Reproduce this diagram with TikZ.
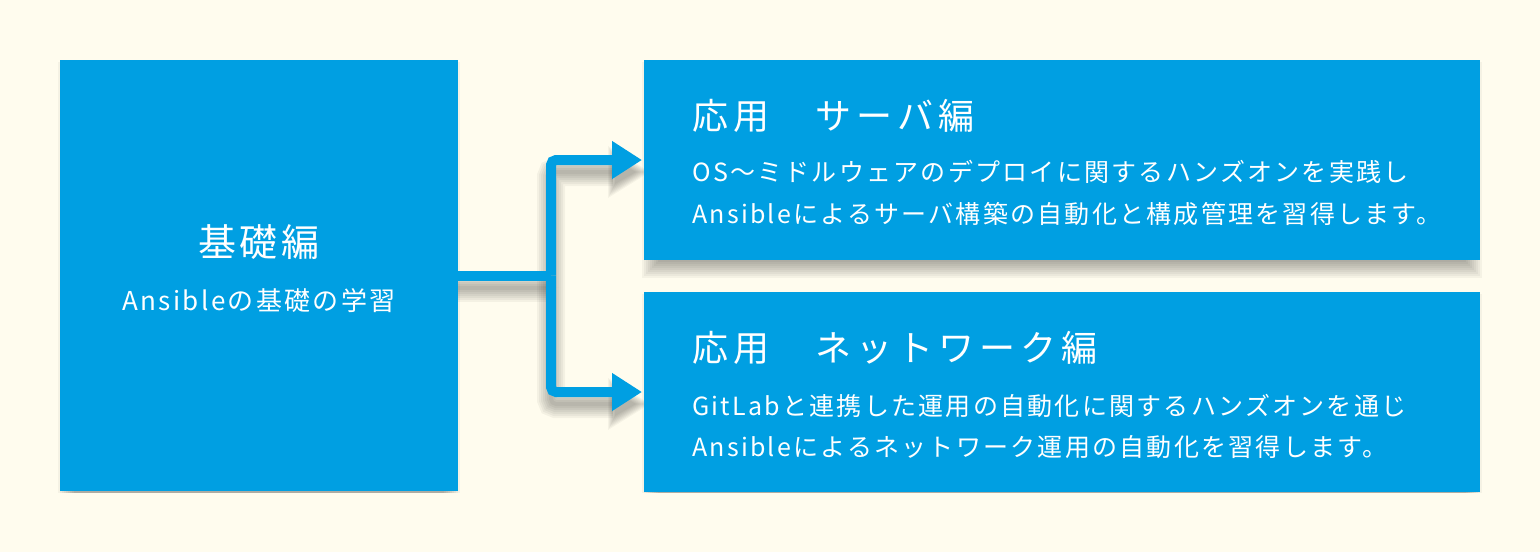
\documentclass[tikz,border=0pt]{standalone}
\usepackage{fontspec}
\newfontfamily\jptitle[LetterSpace=14]{Noto Sans CJK JP}
\newfontfamily\jpbig[LetterSpace=8]{Noto Sans CJK JP}
\newfontfamily\jpbody[LetterSpace=9]{Noto Sans CJK JP}
\usetikzlibrary{arrows.meta,calc}
\definecolor{bg}{HTML}{FFFCEE}
\definecolor{ablue}{HTML}{009FE2}
\pgfdeclarelayer{bgl}
\pgfdeclarelayer{shad}
\pgfsetlayers{bgl,shad,main}
\tikzset{
  panel/.style={fill=ablue, draw=none, inner sep=0pt, outer sep=0pt, anchor=north west},
  ttl/.style={text=white, font=\jptitle\fontsize{36}{40}\selectfont, inner sep=0pt, anchor=base west},
  bigttl/.style={text=white, font=\jpbig\fontsize{38}{42}\selectfont, inner sep=0pt, anchor=base},
  body/.style={text=white, font=\jpbody\fontsize{25}{30}\selectfont, inner sep=0pt, anchor=base west},
  bodyc/.style={text=white, font=\jpbody\fontsize{26}{30}\selectfont, inner sep=0pt, anchor=base},
  conn/.style={draw=ablue, line width=10pt, rounded corners=5pt},
  tip/.style={-{Triangle[length=30pt,width=36pt]}},
  shline/.style={draw=black, opacity=0.045, rounded corners=5pt},
  shbox/.style={fill=black, opacity=0.04},
}
\begin{document}
\begin{tikzpicture}[x=1pt,y=-1pt]
\useasboundingbox (0,0) rectangle (1540,552);
\begin{pgfonlayer}{bgl}
  \fill[bg] (0,0) rectangle (1540,552);
\end{pgfonlayer}

% panels
\node[panel, minimum width=398pt, minimum height=431pt] (L) at (60,60) {};
\node[panel, minimum width=836pt, minimum height=200pt] (A) at (644,60) {};
\node[panel, minimum width=836pt, minimum height=200pt] (B) at (644,292) {};

\coordinate (J) at ($(L.east)+(93,0)$);

% shadows
\begin{pgfonlayer}{shad}
  \begin{scope}
    \clip (0,0) rectangle (1540,492);
    \foreach \e in {-8,-6,...,8} {
      \fill[shbox] ($(L.north west)+(6-\e,10-\e)$) rectangle ($(L.south east)+(-6+\e,10+\e)$);
      \fill[shbox] ($(A.north west)+(6-\e,10-\e)$) rectangle ($(A.south east)+(-6+\e,10+\e)$);
      \fill[shbox] ($(B.north west)+(6-\e,10-\e)$) rectangle ($(B.south east)+(-6+\e,10+\e)$);
    }
    \foreach \w in {4,8,...,28} {
      \draw[shline, line width=\w pt] ($(L.east)+(0,12)$) -- ($(J)+(0,12)$);
      \draw[shline, line width=\w pt] ($(J)+(0,12)$) |- ($(A.west)+(-31,12)$);
      \draw[shline, line width=\w pt] ($(J)+(0,12)$) |- ($(B.west)+(-31,12)$);
    }
    \foreach \e in {-6,-4,...,8} {
      \fill[shbox] ($(A.west)+(-32-0.5*\e,-6-\e)$) -- ($(A.west)+(-2+\e,12)$) -- ($(A.west)+(-32-0.5*\e,30+\e)$) -- cycle;
      \fill[shbox] ($(B.west)+(-32-0.5*\e,-6-\e)$) -- ($(B.west)+(-2+\e,12)$) -- ($(B.west)+(-32-0.5*\e,30+\e)$) -- cycle;
    }
  \end{scope}
\end{pgfonlayer}

% connectors
\draw[conn] (L.east) -- (J);
\draw[conn, tip] (J) |- ($(A.west)+(-2,0)$);
\draw[conn, tip] (J) |- ($(B.west)+(-2,0)$);

% texts
\node[bigttl] (Lt) at ($(L.center)+(0,-19.5)$) {基礎編};
\node[bodyc] (Ls) at ($(L.center)+(0,35)$) {Ansibleの基礎の学習};

\node[ttl] (At) at ($(A.north west)+(48,69)$) {応用　サーバ編};
\node[body] (A1) at ($(A.north west)+(48,121.5)$) {OS〜ミドルウェアのデプロイに関するハンズオンを実践し};
\node[body] (A2) at ($(A.north west)+(48,163.5)$) {Ansibleによるサーバ構築の自動化と構成管理を習得します。};

\node[ttl] (Bt) at ($(B.north west)+(48,69)$) {応用　ネットワーク編};
\node[body] (B1) at ($(B.north west)+(48,123.5)$) {GitLabと連携した運用の自動化に関するハンズオンを通じ};
\node[body] (B2) at ($(B.north west)+(48,164.5)$) {Ansibleによるネットワーク運用の自動化を習得します。};
\end{tikzpicture}
\end{document}
